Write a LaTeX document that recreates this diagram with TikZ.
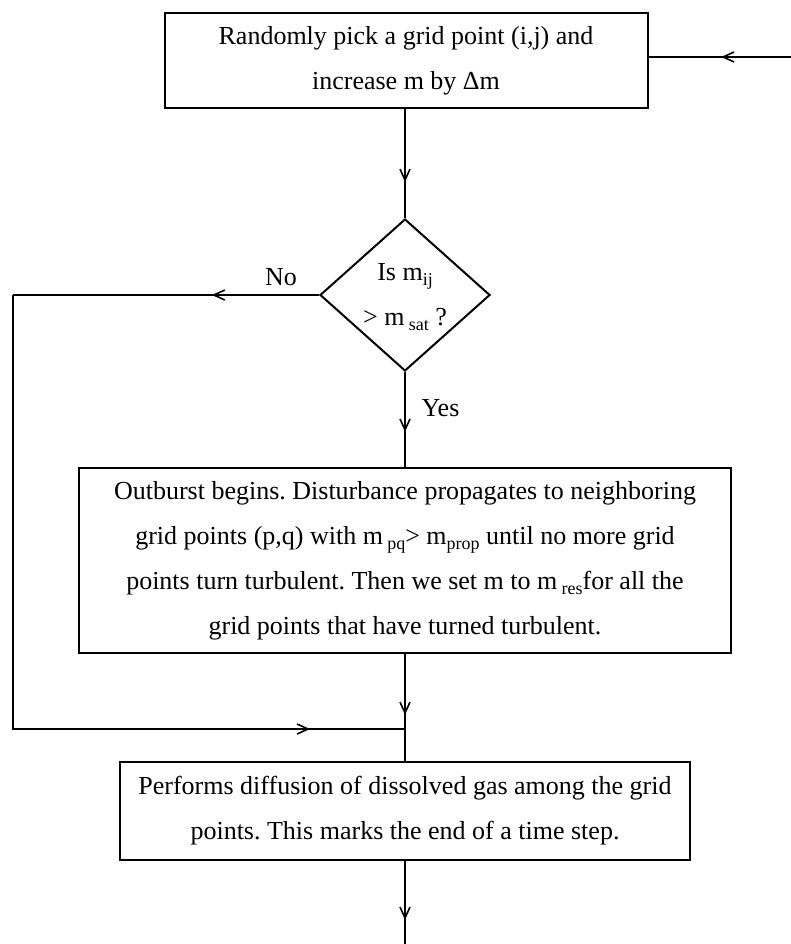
\documentclass[tikz,border=0pt]{standalone}
\usepackage{fontspec}
\setmainfont{Liberation Serif}
\usetikzlibrary{arrows.meta,shapes.geometric,decorations.markings}
\newcommand{\sbx}[1]{\raisebox{-0.45ex}{\fontsize{18}{18}\selectfont #1}}
\tikzset{
  txt/.style={font=\fontsize{26}{45}\selectfont\frenchspacing, align=center},
  box/.style={draw, line width=2pt, txt, inner sep=0pt},
  conn/.style={line width=1.6pt},
  midarrow/.style={conn, postaction={decorate}, decoration={markings,
     mark=at position #1 with {\arrow{Straight Barb[length=11pt,width=10pt,line width=1.6pt]}}}}
}
\begin{document}
\begin{tikzpicture}[x=1pt,y=-1pt]
\useasboundingbox (0,0) rectangle (791,944);
% nodes
\node[box, minimum width=483pt, minimum height=95pt] (top) at (406,60.5)
  {Randomly pick a grid point (i,j) and\\increase m by Δm};
\node[diamond, draw, line width=2pt, minimum width=170pt, minimum height=152pt, inner sep=0pt] (dec) at (405,295) {};
\node[txt] (dectext) at (405,297) {Is m\sbx{ij}\\> m\,\sbx{sat} ?};
\node[box, minimum width=652pt, minimum height=185pt] (mid) at (405,560.5)
  {Outburst begins. Disturbance propagates to neighboring\\
   grid points (p,q) with m\,\sbx{pq}> m\sbx{prop} until no more grid\\
   points turn turbulent. Then we set m to m\,\sbx{res}for all the\\
   grid points that have turned turbulent.};
\node[box, minimum width=570pt, minimum height=98pt] (bot) at (405,811)
  {Performs diffusion of dissolved gas among the grid\\points. This marks the end of a time step.};
% coordinates
\coordinate (entry) at (791,57);
\coordinate (ltl) at (13,295);
\coordinate (lbl) at (13,729);
\coordinate (join) at (405,729);
\coordinate (exit) at (405,944);
% connectors
\draw[midarrow=0.49] (entry) -- (entry -| top.east);
\draw[midarrow=0.67] (top.south -| dec.north) -- (dec.north);
\draw[midarrow=0.35] (dec.west) -- (ltl);
\draw[midarrow=0.885] (ltl) -- (lbl) -- (join);
\draw[midarrow=0.63] (dec.south) -- (mid.north);
\draw[midarrow=0.57] (mid.south) -- (bot.north);
\draw[midarrow=0.71] (bot.south) -- (exit);
% labels
\node[txt, anchor=base] (nolab) at (281,285) {No};
\node[txt, anchor=base west] (yeslab) at (418,416) {Yes};
\end{tikzpicture}
\end{document}
